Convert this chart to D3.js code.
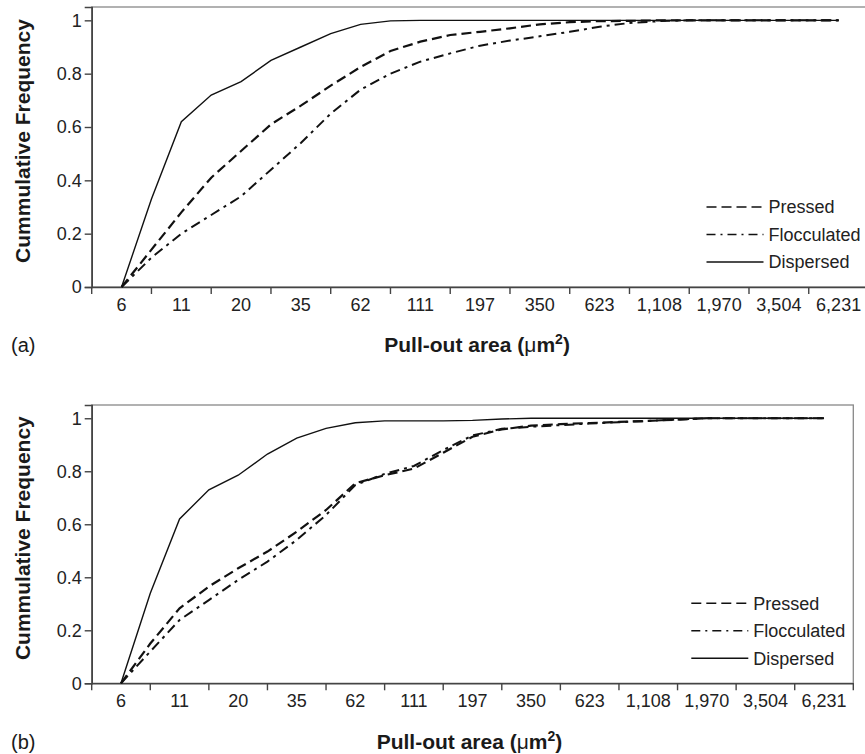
<!DOCTYPE html>
<html lang="en">
<head>
<meta charset="UTF-8">
<title>Cumulative frequency of pull-out area</title>
<script src="https://cdn.jsdelivr.net/npm/d3@7"></script>
<style>
  body { margin: 0; background: #fff; font-family: "Liberation Sans", Arial, sans-serif; }
</style>
</head>
<body>
<div id="chart"></div>
<script>
// category labels on the x axis (pull-out area, um2)
const sizeLabels = ["6", "11", "20", "35", "62", "111", "197", "350", "623", "1,108", "1,970", "3,504", "6,231"];

// readings every half label step, from 6 to 6,231 (25 points)
const pressedA     = [0, 0.14, 0.28, 0.41, 0.51, 0.61, 0.68, 0.755, 0.825, 0.885, 0.92, 0.945, 0.957, 0.97, 0.985, 0.993, 0.997, 0.998, 1, 1, 1, 1, 1, 1, 1];
const flocculatedA = [0, 0.11, 0.20, 0.27, 0.34, 0.44, 0.54, 0.65, 0.74, 0.80, 0.845, 0.876, 0.905, 0.924, 0.94, 0.957, 0.976, 0.99, 0.997, 1, 1, 1, 1, 1, 1];
const dispersedA   = [0, 0.33, 0.62, 0.72, 0.77, 0.85, 0.90, 0.95, 0.985, 0.998, 1, 1, 1, 1, 1, 1, 1, 1, 1, 1, 1, 1, 1, 1, 1];

const pressedB     = [0, 0.15, 0.283, 0.365, 0.434, 0.497, 0.572, 0.654, 0.755, 0.785, 0.81, 0.87, 0.93, 0.958, 0.972, 0.978, 0.982, 0.986, 0.99, 0.995, 1, 1, 1, 1, 1];
const flocculatedB = [0, 0.12, 0.239, 0.314, 0.39, 0.459, 0.541, 0.635, 0.748, 0.79, 0.82, 0.88, 0.935, 0.96, 0.968, 0.974, 0.98, 0.985, 0.99, 0.995, 1, 1, 1, 1, 1];
const dispersedB   = [0, 0.34, 0.62, 0.73, 0.785, 0.865, 0.925, 0.962, 0.983, 0.99, 0.99, 0.99, 0.992, 0.997, 1, 1, 1, 1, 1, 1, 1, 1, 1, 1, 1];

const yTicks = [0, 0.2, 0.4, 0.6, 0.8, 1];
const seriesNames = ["Pressed", "Flocculated", "Dispersed"];

const dashes = { Pressed: "10,5", Flocculated: "10,5,3,5", Dispersed: null };
const widths = { Pressed: 2.2, Flocculated: 2, Dispersed: 1.4 };

const svg = d3.select("#chart")
  .append("svg")
  .attr("width", 865)
  .attr("height", 754);

function drawPanel(p) {
  const g = svg.append("g");

  const band = d3.scaleBand().domain(sizeLabels).range([p.left, p.right]);
  const step = band.step();
  // point index -> pixel (0 = first label centre, 12 = last label centre)
  const xPos = d3.scaleLinear()
    .domain([0, sizeLabels.length - 1])
    .range([band(sizeLabels[0]) + step / 2, band(sizeLabels[sizeLabels.length - 1]) + step / 2]);
  const y = d3.scaleLinear().domain([0, 1.05]).range([p.bottom, p.top]);

  // plot frame
  g.append("rect")
    .attr("x", p.left).attr("y", y(1.05))
    .attr("width", p.right - p.left).attr("height", y(0) - y(1.05))
    .attr("fill", "none").attr("stroke", "#888").attr("stroke-width", 1.3);

  // y axis
  const yAxis = d3.axisLeft(y).tickValues(yTicks).tickFormat(d3.format("~g")).tickSize(7).tickPadding(3);
  const ya = g.append("g").attr("transform", `translate(${p.left},0)`).call(yAxis);
  ya.select(".domain").attr("stroke", "#444").attr("stroke-width", 1.6);
  ya.selectAll(".tick line").attr("stroke", "#444").attr("stroke-width", 1.4);
  ya.selectAll("text").style("font-size", "18px").attr("fill", "#222");

  // x axis: labels centred in categories, tick marks between them
  const xAxis = d3.axisBottom(band).tickSize(0).tickPadding(11).tickSizeOuter(0);
  const xa = g.append("g").attr("transform", `translate(0,${y(0)})`).call(xAxis);
  xa.select(".domain").attr("stroke", "#444").attr("stroke-width", 1.6);
  xa.selectAll("text").style("font-size", "18px").attr("fill", "#222");

  const edges = sizeLabels.map(d => band(d)).concat([band(sizeLabels[sizeLabels.length - 1]) + step]);
  g.append("g").selectAll("line")
    .data(edges)
    .join("line")
    .attr("x1", d => d).attr("x2", d => d)
    .attr("y1", y(0)).attr("y2", y(0) + 7)
    .attr("stroke", "#444").attr("stroke-width", 1.4);

  // series lines
  const line = d3.line()
    .x((d, i) => xPos(i / 2))
    .y(d => y(d));

  p.series.forEach((vals, i) => {
    const name = seriesNames[i];
    g.append("path")
      .datum(vals)
      .attr("d", line)
      .attr("fill", "none")
      .attr("stroke", "#111")
      .attr("stroke-width", widths[name])
      .attr("stroke-dasharray", dashes[name]);
  });

  // legend
  const lg = g.append("g");
  seriesNames.forEach((name, i) => {
    const ly = y(0) - 80 + i * 27.5;
    lg.append("line")
      .attr("x1", p.right - 162).attr("x2", p.right - 105)
      .attr("y1", ly).attr("y2", ly)
      .attr("stroke", "#111").attr("stroke-width", 1.4)
      .attr("stroke-dasharray", name === "Pressed" ? "10,5" : name === "Flocculated" ? "9,5,2,5" : null);
    lg.append("text")
      .attr("x", p.right - 100).attr("y", ly).attr("dy", "0.35em")
      .style("font-size", "18px").attr("fill", "#222")
      .text(name);
  });

  // axis titles
  g.append("text")
    .attr("transform", `translate(30,${(y(0) + y(1.05)) / 2 - 6}) rotate(-90)`)
    .attr("text-anchor", "middle")
    .style("font-size", "21px").style("font-weight", "bold").attr("fill", "#1a1a1a")
    .text("Cummulative Frequency");

  const xt = g.append("text")
    .attr("x", (p.left + edges[edges.length - 1]) / 2 - 3)
    .attr("y", p.titleY)
    .attr("text-anchor", "middle")
    .style("font-size", "21px").style("font-weight", "bold").attr("fill", "#1a1a1a");
  xt.append("tspan").text("Pull-out area (");
  xt.append("tspan").style("font-weight", "normal").text("\u03bc");
  xt.append("tspan").text("m");
  xt.append("tspan").attr("dy", -8).style("font-size", "14px").text("2");
  xt.append("tspan").attr("dy", 8).text(")");

  g.append("text")
    .attr("x", 11).attr("y", p.titleY)
    .style("font-size", "20px").attr("fill", "#1a1a1a")
    .text(p.tag);
}

drawPanel({ left: 91.7, right: 868.5, top: 7, bottom: 287, titleY: 352, tag: "(a)",
  series: [pressedA, flocculatedA, dispersedA] });
drawPanel({ left: 91.7, right: 853.3, top: 405, bottom: 683.3, titleY: 749, tag: "(b)",
  series: [pressedB, flocculatedB, dispersedB] });
</script>
</body>
</html>
